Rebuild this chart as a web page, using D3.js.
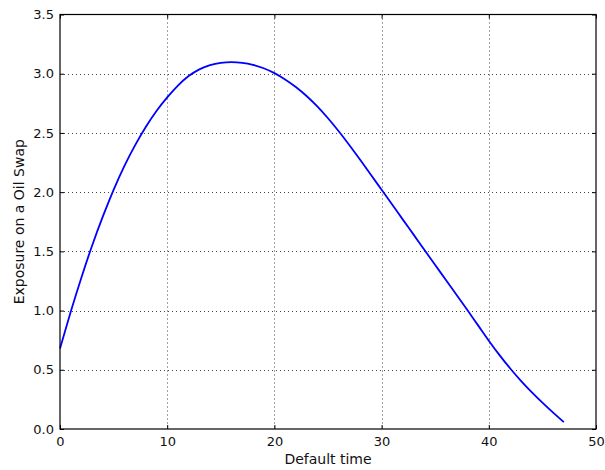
<!DOCTYPE html>
<html>
<head>
<meta charset="utf-8">
<script src="https://cdn.jsdelivr.net/npm/d3@7"></script>
<style>
  html, body { margin: 0; padding: 0; background: #fff; }
  svg { display: block; font-family: "DejaVu Sans", sans-serif; }
</style>
</head>
<body>
<svg id="chart" width="605" height="470"></svg>
<script>
// Default time (years) and exposure of the oil swap at each time
const defaultTimes = d3.range(0, 48);
const exposure = [
  0.68, 0.99, 1.28, 1.55, 1.795, 2.02, 2.22, 2.395, 2.55, 2.685,
  2.80, 2.90, 2.98, 3.037, 3.073, 3.092, 3.098, 3.092, 3.075, 3.046,
  3.005, 2.952, 2.888, 2.812, 2.724, 2.624, 2.514, 2.396, 2.273, 2.147,
  2.02, 1.893, 1.766, 1.639, 1.512, 1.385, 1.258, 1.131, 1.004, 0.875,
  0.746, 0.624, 0.511, 0.407, 0.311, 0.222, 0.138, 0.058
];
const xTicks = [0, 10, 20, 30, 40, 50];
const yTicks = [0, 0.5, 1.0, 1.5, 2.0, 2.5, 3.0, 3.5];
const xTitle = "Default time";
const yTitle = "Exposure on a Oil Swap";

const svg = d3.select("#chart");
const plotLeft = 60, plotRight = 596, plotTop = 14.5, plotBottom = 429;

const x = d3.scaleLinear().domain([0, 50]).range([plotLeft, plotRight]);
const y = d3.scaleLinear().domain([0, 3.5]).range([plotBottom, plotTop]);

// dotted grid
const grid = svg.append("g")
  .attr("stroke", "#444")
  .attr("stroke-width", 1)
  .attr("stroke-dasharray", "1,3");
grid.selectAll("line.gx").data(xTicks.slice(1, -1)).join("line")
  .attr("x1", d => Math.round(x(d)) + 0.5).attr("x2", d => Math.round(x(d)) + 0.5)
  .attr("y1", plotTop).attr("y2", plotBottom);
grid.selectAll("line.gy").data(yTicks.slice(1, -1)).join("line")
  .attr("y1", d => Math.round(y(d)) + 0.5).attr("y2", d => Math.round(y(d)) + 0.5)
  .attr("x1", plotLeft).attr("x2", plotRight);

// exposure curve
const line = d3.line()
  .x((d, i) => x(defaultTimes[i]))
  .y(d => y(d))
  .curve(d3.curveMonotoneX);
svg.append("path")
  .datum(exposure)
  .attr("fill", "none")
  .attr("stroke", "#0000ff")
  .attr("stroke-width", 1.8)
  .attr("stroke-linejoin", "round")
  .attr("d", line);

// axes with inward ticks
const tickFmtY = d3.format(".1f");
const xAxis = d3.axisBottom(x).tickValues(xTicks).tickSizeInner(-4).tickSizeOuter(0).tickPadding(8);
const xAxisTop = d3.axisTop(x).tickValues(xTicks).tickSizeInner(-4).tickSizeOuter(0).tickFormat("");
const yAxis = d3.axisLeft(y).tickValues(yTicks).tickFormat(tickFmtY).tickSizeInner(-4).tickSizeOuter(0).tickPadding(6);
const yAxisRight = d3.axisRight(y).tickValues(yTicks).tickSizeInner(-4).tickSizeOuter(0).tickFormat("");

function style(g) {
  g.select(".domain").remove();
  g.selectAll(".tick line").attr("stroke", "#000");
  g.selectAll(".tick text").attr("fill", "#111").attr("font-size", 13)
    .attr("font-family", "DejaVu Sans, sans-serif");
}
svg.append("g").attr("transform", `translate(0,${plotBottom})`).call(xAxis).call(style);
svg.append("g").attr("transform", `translate(0,${plotTop})`).call(xAxisTop).call(style);
svg.append("g").attr("transform", `translate(${plotLeft},0)`).call(yAxis).call(style);
svg.append("g").attr("transform", `translate(${plotRight},0)`).call(yAxisRight).call(style);

// frame
svg.append("rect")
  .attr("x", plotLeft).attr("y", plotTop)
  .attr("width", plotRight - plotLeft).attr("height", plotBottom - plotTop)
  .attr("fill", "none").attr("stroke", "#000").attr("stroke-width", 1.2);

// axis titles
svg.append("text")
  .attr("x", (plotLeft + plotRight) / 2).attr("y", 464)
  .attr("text-anchor", "middle").attr("font-size", 14).attr("fill", "#111")
  .text(xTitle);
svg.append("text")
  .attr("transform", `translate(24,${(plotTop + plotBottom) / 2}) rotate(-90)`)
  .attr("text-anchor", "middle").attr("font-size", 14).attr("fill", "#111")
  .text(yTitle);
</script>
</body>
</html>
